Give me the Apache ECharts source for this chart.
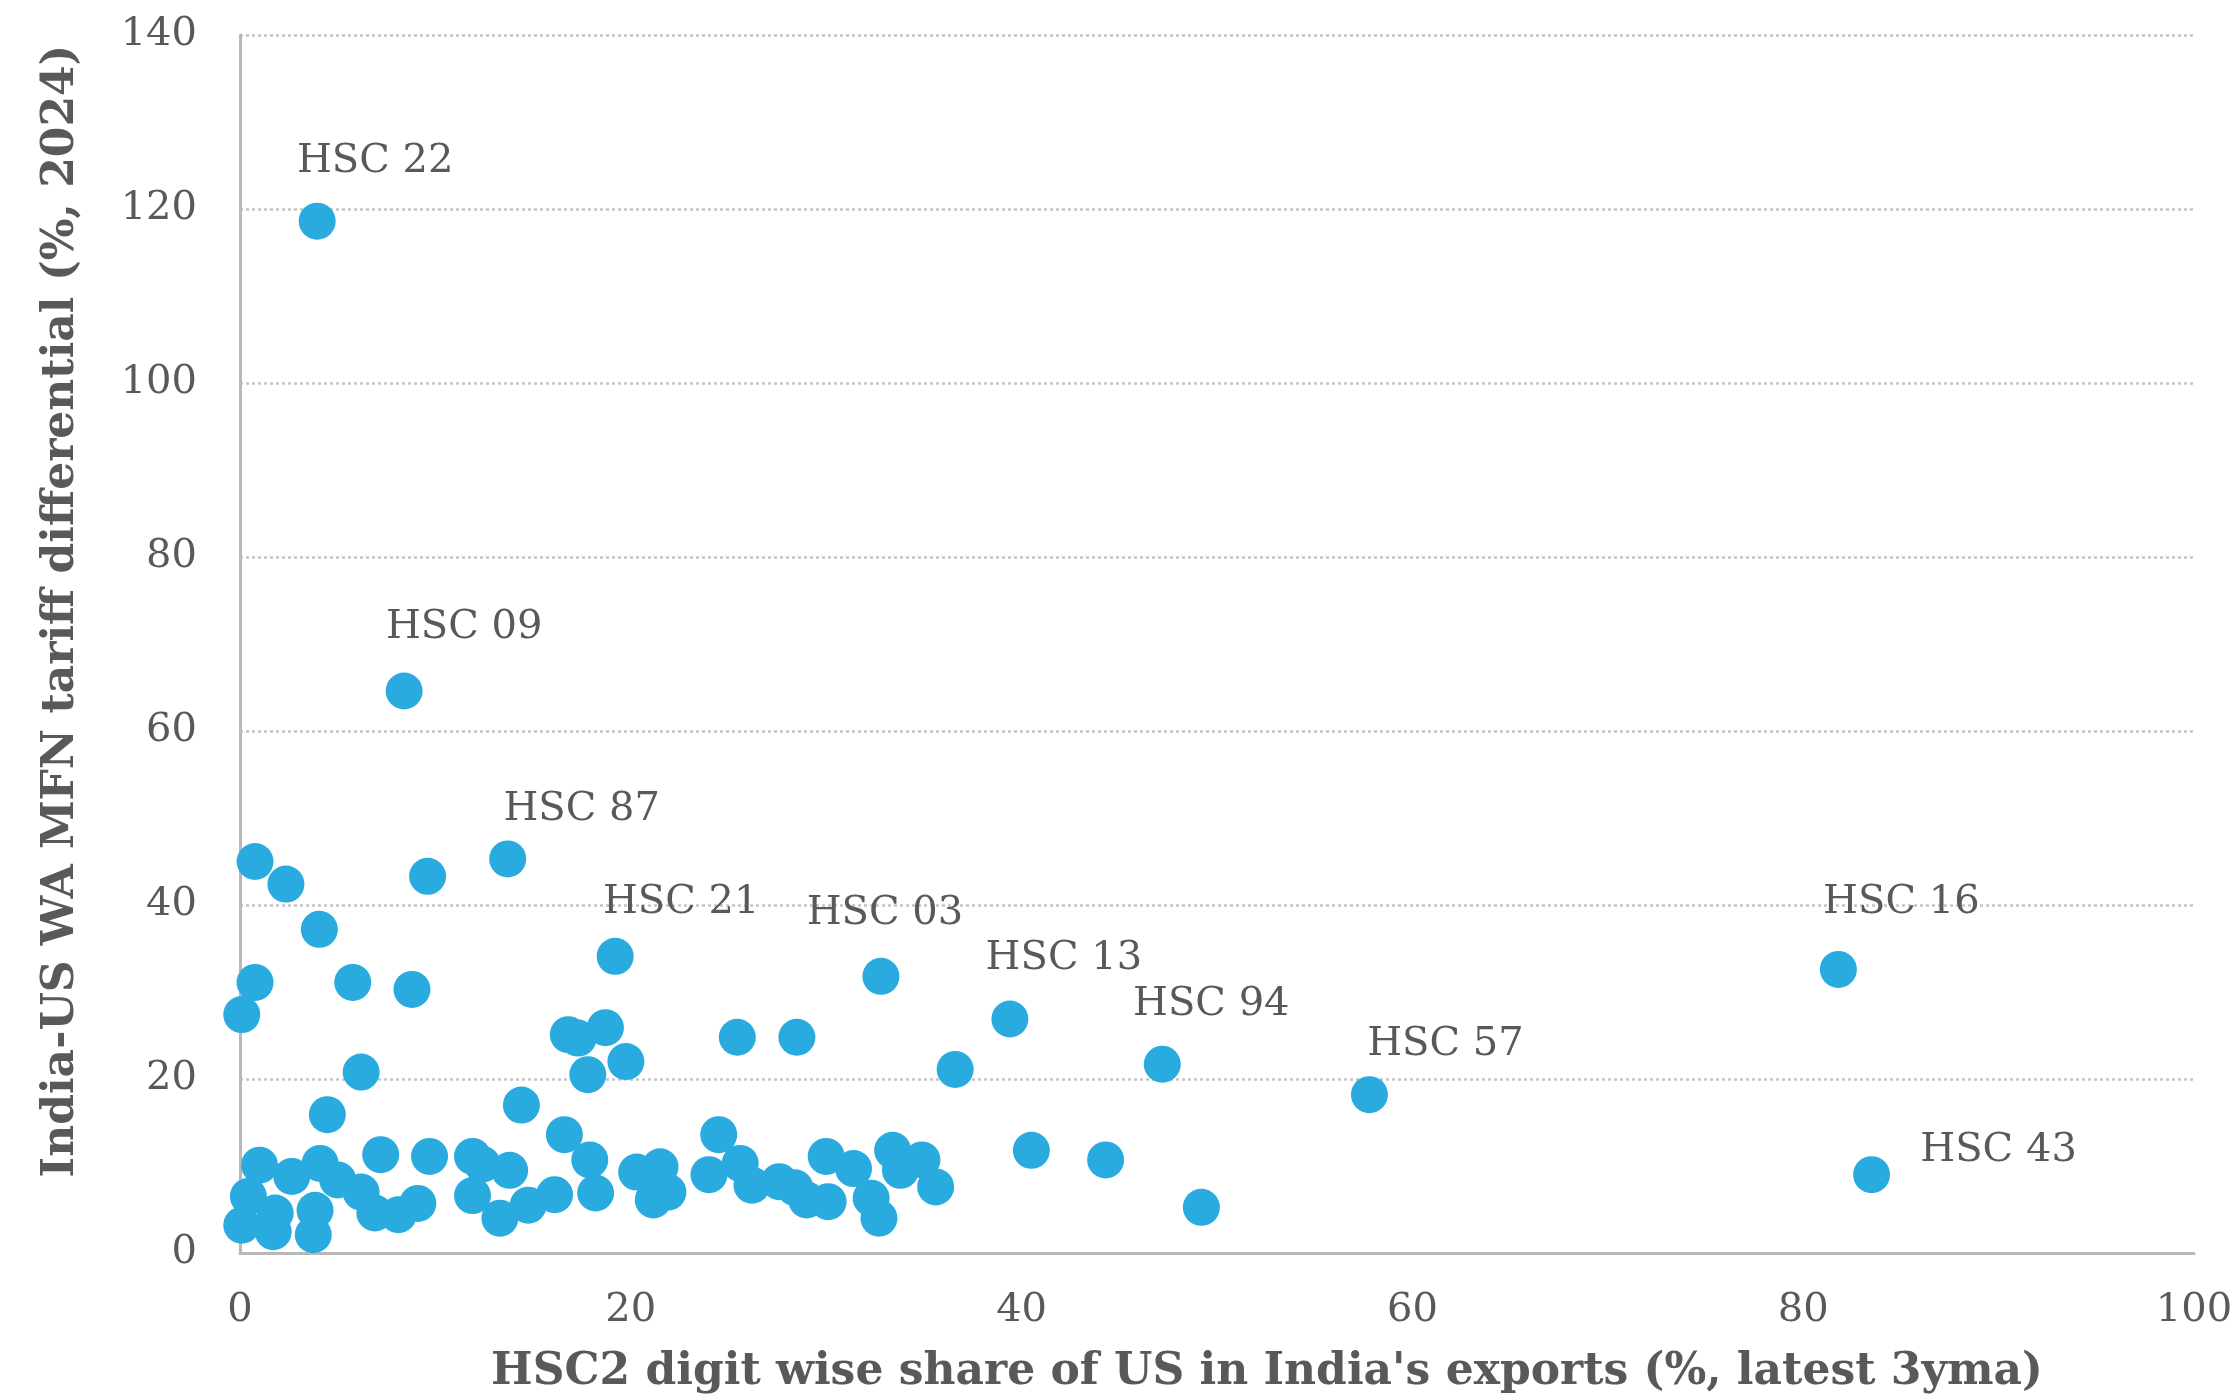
<!DOCTYPE html>
<html>
<head>
<meta charset="utf-8">
<script src="https://cdn.jsdelivr.net/npm/echarts@6/dist/echarts.min.js"></script>
<style>
html,body{margin:0;padding:0;background:#fff;}
#chart{width:2238px;height:1398px;}
</style>
</head>
<body>
<div id="chart"></div>
<script>
// HSC2 digit-wise share of US in India's exports (%, latest 3yma)
const shareUS = [
  3.95, 8.4, 13.7, 19.2, 32.8, 39.4, 47.2, 57.8, 81.8, 83.5,
  0.77, 2.35, 9.6, 4.06, 0.77, 0.09, 5.77, 8.8,
  16.8, 17.3, 18.7, 19.75, 17.8, 6.2, 4.47, 14.4, 16.6,
  25.45, 28.5, 36.6, 40.5, 44.3, 49.2, 24.5,
  1.0, 2.65, 4.1, 5.0, 6.2, 7.2, 9.7, 11.9, 11.9, 12.4,
  0.43, 0.09, 1.7, 1.8, 3.84, 3.75, 6.9, 8.1, 9.1,
  13.8, 13.3, 14.75, 16.1, 17.9, 18.2, 20.3, 21.5, 21.9, 21.15,
  24.0, 25.6, 26.2, 27.6, 28.4, 29.0, 30.1, 30.0, 31.4, 32.3, 32.7,
  33.4, 33.8, 34.9, 35.6
];
// India-US WA MFN tariff differential (%, 2024)
const tariffDiff = [
  118.6, 64.6, 45.3, 34.1, 31.8, 26.9, 21.7, 18.2, 32.6, 9.0,
  45.0, 42.4, 43.3, 37.2, 31.1, 27.4, 31.1, 30.3,
  25.1, 24.7, 25.9, 22.0, 20.5, 20.8, 15.9, 17.0, 13.6,
  24.8, 24.8, 21.1, 11.8, 10.7, 5.25, 13.6,
  10.1, 8.8, 10.3, 8.4, 7.0, 11.3, 11.1, 11.1, 6.6, 10.2,
  6.5, 3.2, 2.45, 4.6, 4.9, 2.1, 4.6, 4.4, 5.7,
  9.5, 4.0, 5.5, 6.7, 10.7, 6.9, 9.3, 9.9, 7.0, 6.1,
  9.0, 10.3, 7.8, 8.2, 7.5, 6.1, 5.9, 11.1, 9.7, 6.3, 4.0,
  11.8, 9.5, 10.7, 7.6
];
// point annotations (first points carry labels; rest unlabeled)
const pointLabels = [
  'HSC 22', 'HSC 09', 'HSC 87', 'HSC 21', 'HSC 03', 'HSC 13', 'HSC 94', 'HSC 57', 'HSC 16', 'HSC 43'
];
const xTicks = [0, 20, 40, 60, 80, 100];
const yTicks = [0, 20, 40, 60, 80, 100, 120, 140];
const xTitle = "HSC2 digit wise share of US in India's exports (%, latest 3yma)";
const yTitle = "India-US WA MFN tariff differential (%, 2024)";

// label placement (layout only)
const labelOffsets = {
  'HSC 22': [58, -60], 'HSC 09': [60, -63], 'HSC 87': [74, -49], 'HSC 21': [66, -54],
  'HSC 03': [4, -63], 'HSC 13': [54, -60], 'HSC 94': [49, -60], 'HSC 57': [76, -50],
  'HSC 16': [63, -67], 'HSC 43': [127, -24]
};

const FONT = "'DejaVu Serif', Georgia, serif";
const TXT = '#595959';
const DOT = '#2AABE0';

const data = shareUS.map((x, i) => {
  const name = pointLabels[i] || '';
  const item = { value: [x, tariffDiff[i]], name: name };
  if (name) {
    item.label = {
      show: true, formatter: name, position: 'inside',
      offset: labelOffsets[name], color: TXT, fontFamily: FONT, fontSize: 40
    };
  }
  return item;
});

const chart = echarts.init(document.getElementById('chart'), null, { renderer: 'canvas' });
chart.setOption({
  backgroundColor: '#ffffff',
  animation: false,
  grid: { left: 240, right: 44, top: 35, bottom: 145, containLabel: false },
  xAxis: {
    type: 'value', min: xTicks[0], max: xTicks[xTicks.length - 1], interval: 20,
    axisLine: { show: true, lineStyle: { color: '#B8B8B8', width: 3 } },
    axisTick: { show: false },
    splitLine: { show: false },
    axisLabel: { color: TXT, fontFamily: FONT, fontSize: 40, margin: 38 }
  },
  yAxis: {
    type: 'value', min: yTicks[0], max: yTicks[yTicks.length - 1], interval: 20,
    axisLine: { show: true, lineStyle: { color: '#B8B8B8', width: 3 } },
    axisTick: { show: false },
    splitLine: { show: true, lineStyle: { color: '#C4C4C4', width: 2.5, type: [3, 3] } },
    axisLabel: { color: TXT, fontFamily: FONT, fontSize: 40, margin: 43 }
  },
  graphic: [
    {
      type: 'text', x: 1267, y: 1373,
      style: { text: xTitle, fill: TXT, font: "bold 44px 'DejaVu Serif', Georgia, serif",
               textAlign: 'center', textVerticalAlign: 'middle' }
    },
    {
      type: 'text', rotation: Math.PI / 2, x: 62, y: 611,
      style: { text: yTitle, fill: TXT, font: "bold 44px 'DejaVu Serif', Georgia, serif",
               textAlign: 'center', textVerticalAlign: 'middle' }
    }
  ],
  series: [{
    type: 'scatter',
    symbol: 'circle',
    symbolSize: 37,
    itemStyle: { color: DOT, opacity: 1 },
    label: { show: false },
    data: data
  }]
});
</script>
</body>
</html>
